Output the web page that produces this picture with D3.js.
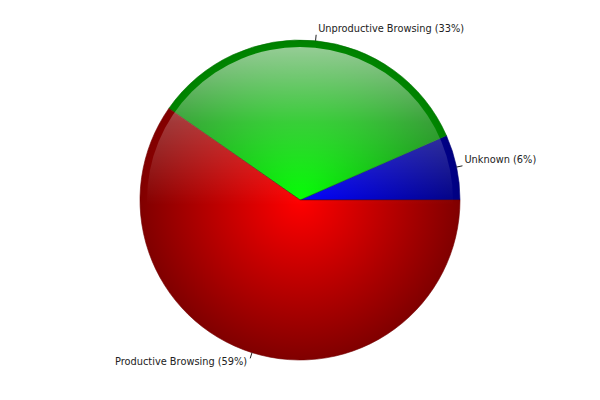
<!DOCTYPE html>
<html><head><meta charset="utf-8">
<script src="https://cdn.jsdelivr.net/npm/d3@7/dist/d3.min.js"></script>
<style>body{margin:0;background:#fff}svg{display:block}</style>
</head><body>
<svg id="c" width="600" height="400"></svg>
<script>
const categories = ["Unknown", "Unproductive Browsing", "Productive Browsing"];
const values = [6.6, 33.7, 59.7];
const labelPercents = [6, 33, 59];
const centerColors = ["#0000ff", "#00ff00", "#ff0000"];
const edgeColors = ["#000080", "#008000", "#800000"];

const W = 600, H = 400, cx = 300, cy = 200, R = 160;
const svg = d3.select("#c");
const defs = svg.append("defs");

const data = categories.map((c, i) => ({name: c, value: values[i], pct: labelPercents[i], c0: centerColors[i], c1: edgeColors[i]}));

data.forEach((d, i) => {
  const g = defs.append("radialGradient").attr("id", "rg" + i)
    .attr("gradientUnits", "userSpaceOnUse").attr("cx", 0).attr("cy", 0).attr("r", R);
  g.append("stop").attr("offset", "0").attr("stop-color", d.c0);
  g.append("stop").attr("offset", "1").attr("stop-color", d.c1);
});
const hl = defs.append("linearGradient").attr("id", "hl")
  .attr("gradientUnits", "userSpaceOnUse").attr("x1", 0).attr("y1", -R).attr("x2", 0).attr("y2", 5);
hl.append("stop").attr("offset", "0").attr("stop-color", "#fff").attr("stop-opacity", 0.62);
hl.append("stop").attr("offset", "0.5").attr("stop-color", "#fff").attr("stop-opacity", 0.22);
hl.append("stop").attr("offset", "1").attr("stop-color", "#fff").attr("stop-opacity", 0);

const pie = d3.pie().value(d => d.value).sort(null)
  .startAngle(Math.PI / 2).endAngle(Math.PI / 2 - 2 * Math.PI);
const arcs = pie(data);
const arc = d3.arc().innerRadius(0).outerRadius(R);

const g = svg.append("g").attr("transform", `translate(${cx},${cy})`);
g.selectAll("path.slice").data(arcs).join("path")
  .attr("class", "slice")
  .attr("d", arc)
  .attr("fill", (d, i) => `url(#rg${i})`)
  .attr("stroke", d => d3.color(d.data.c1).darker(0.3))
  .attr("stroke-width", 0.6);

// glossy highlight
g.append("circle").attr("cx", 0).attr("cy", 0).attr("r", R - 7)
  .attr("fill", "url(#hl)");

// labels
arcs.forEach(d => {
  const mid = (d.startAngle + d.endAngle) / 2;
  const sx = Math.sin(mid), sy = -Math.cos(mid);
  const p1 = [cx + sx * R, cy + sy * R];
  const p2 = [cx + sx * (R + 6), cy + sy * (R + 6)];
  svg.append("line").attr("x1", p1[0]).attr("y1", p1[1]).attr("x2", p2[0]).attr("y2", p2[1])
    .attr("stroke", "#222").attr("stroke-width", 1);
  const right = sx >= 0;
  const below = sy > 0.5;
  svg.append("text")
    .attr("x", p2[0] + (right ? 2 : -3))
    .attr("y", p2[1] + (below ? 7 : -3))
    .attr("text-anchor", right ? "start" : "end")
    .attr("font-family", "DejaVu Sans, Verdana, sans-serif")
    .attr("font-size", 9.8)
    .attr("fill", "#222")
    .text(`${d.data.name} (${d.data.pct}%)`);
});
</script>
</body></html>
